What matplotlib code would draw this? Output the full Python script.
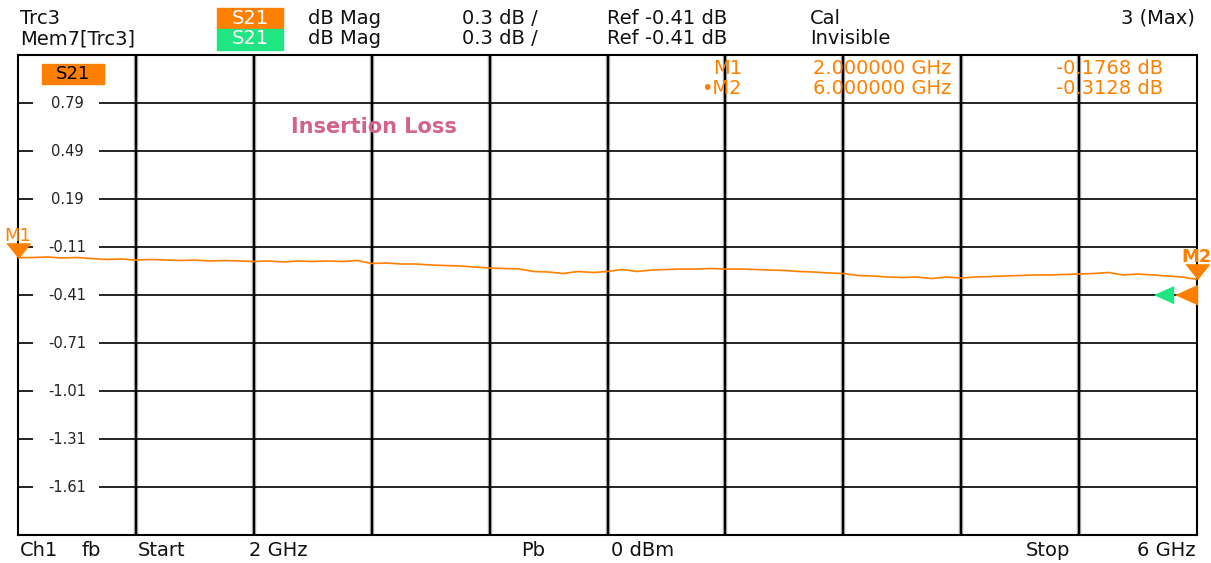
import numpy as np
import matplotlib
matplotlib.use('Agg')
import matplotlib.pyplot as plt
from matplotlib.patches import Rectangle
from matplotlib.transforms import offset_copy

plt.rcParams['font.family'] = ['DejaVu Sans']

# sweep / scale settings
freq_start = 2.0
freq_stop = 6.0
ref_level = -0.41
scale_div = 0.3

# S21 trace (dB), evenly spaced sweep points
s21_db = [-0.1768, -0.1756, -0.1725, -0.1788, -0.1756, -0.1819, -0.1881, -0.1850,
          -0.1913, -0.1881, -0.1913, -0.1944, -0.1913, -0.1975, -0.1944, -0.1975,
          -0.2006, -0.1975, -0.2038, -0.1975, -0.2006, -0.1975, -0.2006, -0.1944,
          -0.2131, -0.2100, -0.2163, -0.2163, -0.2225, -0.2256, -0.2288, -0.2350,
          -0.2413, -0.2444, -0.2475, -0.2631, -0.2663, -0.2756, -0.2631, -0.2694,
          -0.2631, -0.2506, -0.2631, -0.2538, -0.2506, -0.2475, -0.2475, -0.2444,
          -0.2475, -0.2475, -0.2506, -0.2538, -0.2569, -0.2631, -0.2663, -0.2725,
          -0.2756, -0.2881, -0.2913, -0.2975, -0.3006, -0.2975, -0.3069, -0.2975,
          -0.3038, -0.2975, -0.2944, -0.2913, -0.2881, -0.2850, -0.2850, -0.2819,
          -0.2788, -0.2756, -0.2694, -0.2850, -0.2788, -0.2850, -0.2913, -0.2975,
          -0.3128]
freq_ghz = np.linspace(freq_start, freq_stop, len(s21_db))

y_ticks = [0.79, 0.49, 0.19, -0.11, -0.41, -0.71, -1.01, -1.31, -1.61]
y_tick_labels = ['0.79', '0.49', '0.19', '-0.11', '-0.41', '-0.71', '-1.01', '-1.31', '-1.61']

marker_names = ['M1', 'M2']
marker_freqs = [2.0, 6.0]
marker_vals = [-0.1768, -0.3128]

ORANGE = '#ff8000'
GREEN = '#1ee682'
PINK = '#d2648c'

W, H = 1211, 563


def fx(px):
    return px / W


def fy(py):
    return 1 - py / H


fig = plt.figure(figsize=(W / 100, H / 100), dpi=100)
ax = fig.add_axes([fx(18), fy(535), (1197 - 18) / W, (535 - 55) / H])
ax.set_xlim(freq_start, freq_stop)
ax.set_ylim(ref_level - 5 * scale_div, ref_level + 5 * scale_div)
ax.set_xticks([])
ax.set_yticks([])
for sp in ax.spines.values():
    sp.set_linewidth(1.5)
    sp.set_color('black')

# vertical grid (10 divisions)
vgrid = np.linspace(freq_start, freq_stop, 11)[1:-1]
ax.vlines(vgrid, -1.91, 1.09, colors='#b0b0b0', linewidth=3.2, zorder=1)
ax.vlines(vgrid, -1.91, 1.09, colors='black', linewidth=1.6, zorder=2)

# horizontal grid, broken where the labels sit
ytr = ax.get_yaxis_transform()
ax.hlines(y_ticks, 0, (33 - 18) / 1179, colors='black', linewidth=1.2, transform=ytr)
ax.hlines(y_ticks, (99 - 18) / 1179, 1, colors='black', linewidth=1.2, transform=ytr)
for yv, lab in zip(y_ticks, y_tick_labels):
    ax.text((67 - 18) / 1179, yv, lab, transform=ytr, ha='center', va='center',
            fontsize=10.5, color='#222222')

# trace
ax.plot(freq_ghz, s21_db, color=ORANGE, linewidth=1.2, zorder=4)

# marker triangles
down_tri = [(-1, 1.25), (1, 1.25), (0, 0)]
for name, f, v in zip(marker_names, marker_freqs, marker_vals):
    ax.plot(f, v, marker=down_tri, markersize=21, color=ORANGE, clip_on=False, zorder=6)
    tr = offset_copy(ax.transData, fig=fig, x=0, y=22, units='dots')
    ax.text(f, v, name, transform=tr, ha='center', va='center', color=ORANGE,
            fontsize=13, fontweight='bold' if name == 'M2' else 'normal', clip_on=False)

# reference level arrows on the right edge
left_tri = [(0, -0.45), (0, 0.45), (-1, 0)]
ax.plot(freq_stop, ref_level, marker=left_tri, markersize=31, color=ORANGE,
        clip_on=False, zorder=6)
gtr = offset_copy(ax.transData, fig=fig, x=-24, y=0, units='dots')
ax.plot(freq_stop, ref_level, marker=left_tri, markersize=27, color=GREEN,
        clip_on=False, zorder=6, transform=gtr)

# in-plot labels
fig.add_artist(Rectangle((fx(42), fy(84)), 62 / W, 20 / H, transform=fig.transFigure,
                         color=ORANGE, zorder=5))
fig.text(fx(73), fy(74), 'S21', ha='center', va='center', fontsize=13, color='black', zorder=6)
fig.text(fx(374), fy(127), 'Insertion Loss', ha='center', va='center', fontsize=15,
         fontweight='bold', color=PINK)

mk_rows = [(69, 'M1', '2.000000 GHz', '-0.1768 dB'), (88, '\u2022M2', '6.000000 GHz', '-0.3128 dB')]
for yy, a, b, c in mk_rows:
    fig.text(fx(742), fy(yy), a, ha='right', va='center', fontsize=14, color=ORANGE)
    fig.text(fx(882), fy(yy), b, ha='center', va='center', fontsize=14, color=ORANGE)
    fig.text(fx(1110), fy(yy), c, ha='center', va='center', fontsize=14, color=ORANGE)

# header
hdr = dict(va='center', fontsize=14, color='#111111')
fig.text(fx(20), fy(18), 'Trc3', ha='left', **hdr)
fig.text(fx(20), fy(39), 'Mem7[Trc3]', ha='left', **hdr)
fig.add_artist(Rectangle((fx(217), fy(29)), 66 / W, 21 / H, transform=fig.transFigure,
                         color=ORANGE))
fig.add_artist(Rectangle((fx(217), fy(50)), 66 / W, 21 / H, transform=fig.transFigure,
                         color=GREEN))
fig.text(fx(250), fy(18), 'S21', ha='center', va='center', fontsize=14, color='white')
fig.text(fx(250), fy(39), 'S21', ha='center', va='center', fontsize=14, color='white')
for yy, last in [(18, 'Cal'), (39, 'Invisible')]:
    fig.text(fx(345), fy(yy), 'dB Mag', ha='center', **hdr)
    fig.text(fx(500), fy(yy), '0.3 dB /', ha='center', **hdr)
    fig.text(fx(667), fy(yy), 'Ref -0.41 dB', ha='center', **hdr)
    fig.text(fx(810), fy(yy), last, ha='left', **hdr)
fig.text(fx(1195), fy(18), '3 (Max)', ha='right', **hdr)

# footer
ftr = dict(va='center', fontsize=14, color='#111111')
fig.text(fx(20), fy(551), 'Ch1', ha='left', **ftr)
fig.text(fx(91), fy(551), 'fb', ha='center', **ftr)
fig.text(fx(162), fy(551), 'Start', ha='center', **ftr)
fig.text(fx(278), fy(551), '2 GHz', ha='center', **ftr)
fig.text(fx(533), fy(551), 'Pb', ha='center', **ftr)
fig.text(fx(643), fy(551), '0 dBm', ha='center', **ftr)
fig.text(fx(1048), fy(551), 'Stop', ha='center', **ftr)
fig.text(fx(1196), fy(551), '6 GHz', ha='right', **ftr)

fig.savefig('out.png', dpi=100, facecolor='white')
